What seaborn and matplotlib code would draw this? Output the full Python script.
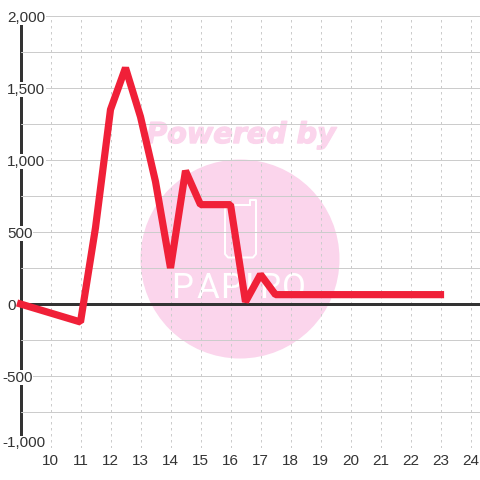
import matplotlib
matplotlib.use("Agg")
import matplotlib.pyplot as plt
import matplotlib.patheffects as pe
from matplotlib.patches import Circle
from matplotlib.transforms import ScaledTranslation
from matplotlib.ticker import FixedLocator, FuncFormatter
import pandas as pd
import seaborn as sns

hours = [9, 11, 11.5, 12, 12.5, 13, 13.5, 14, 14.5, 15, 16, 16.5, 17, 17.5, 23]
values = [0, -125, 530, 1350, 1640, 1300, 850, 250, 925, 690, 690, 15, 205, 65, 65]
x_ticks = list(range(10, 25))
y_major = [-1000, -500, 0, 500, 1000, 1500, 2000]
y_minor = [-750, -250, 250, 750, 1250, 1750]
logo_letters = ["P", "A", "P", "I", "R", "O"]

sns.set_theme(style="white")
plt.rcParams["font.family"] = ["Liberation Sans", "DejaVu Sans"]
PX = 0.72
W = 480.0
fig = plt.figure(figsize=(4.8, 4.8), dpi=100, facecolor="white")

# watermark, behind the transparent chart
bg = fig.add_axes([0, 0, 1, 1], zorder=0)
bg.set_xlim(0, W); bg.set_ylim(W, 0); bg.axis("off")
bg.add_patch(Circle((240, 259), 99.5, fc="#fbd5ec", ec="none"))
bg.plot([250, 225, 225, 228, 253, 256, 256, 253, 250, 250],
        [205, 205, 254, 257.5, 257.5, 254, 200, 200, 200, 205],
        color="white", lw=2 * PX, solid_joinstyle="round")
bg.text(241, 135, "Powered by", ha="center", va="center", color="#fbd5ec",
        family="DejaVu Sans", weight="bold", style="italic", fontsize=20.6,
        path_effects=[pe.withStroke(linewidth=1.0, foreground="#fbd5ec")])
for centre, letter in zip([182, 208, 231, 250, 270, 294], logo_letters):
    bg.text(centre, 289, letter, ha="center", va="center", color="white",
            family="Roboto", fontsize=25, weight="normal")

ax = fig.add_axes([20.5 / W, (W - 448) / W, (W - 20.5) / W, 432 / W], zorder=1)
ax.patch.set_alpha(0)
data = pd.DataFrame({"hour": hours, "value": values})
sns.lineplot(data=data, x="hour", y="value", ax=ax, color="#f02038", lw=7.2 * PX,
             estimator=None, sort=False, zorder=5, solid_joinstyle="bevel",
             solid_capstyle="projecting", clip_on=False)
ax.axhline(0, color="#333333", lw=3 * PX, zorder=4)

ax.set_xlim(9, 9 + (W - 20.5) / 30)
ax.set_ylim(-1000, 2000)
ax.set_xlabel(""); ax.set_ylabel("")
for name in ["top", "right", "bottom"]:
    ax.spines[name].set_visible(False)
ax.spines["left"].set_color("#333333")
ax.spines["left"].set_linewidth(3 * PX)
ax.spines["left"].set_zorder(0.2)

ax.set_axisbelow(True)
ax.xaxis.set_major_locator(FixedLocator(x_ticks))
ax.yaxis.set_major_locator(FixedLocator(y_major))
ax.yaxis.set_minor_locator(FixedLocator(y_minor))
ax.yaxis.set_major_formatter(FuncFormatter(lambda v, _: f"{int(v):,}"))
ax.grid(axis="y", which="both", color="#cccccc", lw=1 * PX, ls="-")
ax.grid(axis="x", which="major", color="#cccccc", lw=1 * PX, ls=(0, (2.5, 3.5)))
ax.tick_params(axis="both", which="both", length=0)
ax.tick_params(axis="x", labelsize=11, labelcolor="#333333", pad=4.5)
ax.tick_params(axis="y", labelsize=11, labelcolor="#333333", pad=13.5 * PX)
fig.canvas.draw()
for tick, value in zip(ax.yaxis.get_major_ticks(), y_major):
    label = tick.label1
    label.set_ha("left")
    label.set_bbox(dict(fc="white", ec="none", pad=0.3))
    dx = -5 if value < 0 else 0
    dy = 6.3 if value == -1000 else 0
    label.set_transform(label.get_transform()
                        + ScaledTranslation(dx / 100, dy / 100, fig.dpi_scale_trans))
fig.savefig("out.png", dpi=100)
